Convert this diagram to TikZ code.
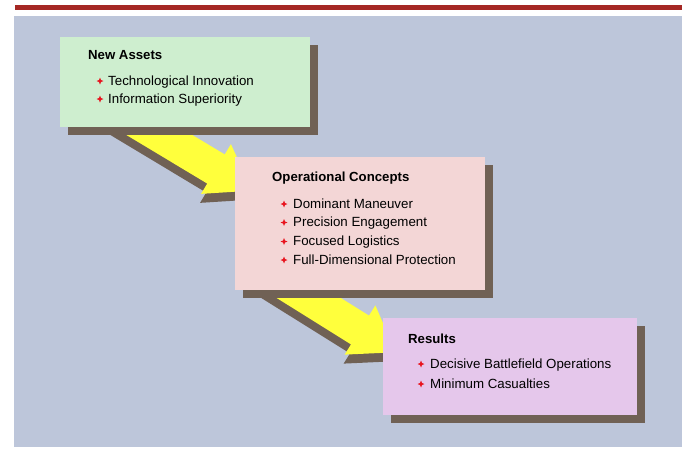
\documentclass[tikz,border=0pt]{standalone}
\usepackage{fontspec}
\setmainfont{Liberation Sans}
\usetikzlibrary{shadows}

\pgfdeclarelayer{panel}
\pgfdeclarelayer{arrows}
\pgfsetlayers{panel,arrows,main}

\definecolor{panelbg}{RGB}{189,198,218}
\definecolor{ruleline}{RGB}{165,40,36}
\definecolor{assetsbg}{RGB}{206,238,207}
\definecolor{conceptsbg}{RGB}{243,214,214}
\definecolor{resultsbg}{RGB}{229,199,235}
\definecolor{shadowc}{RGB}{112,97,85}
\definecolor{arrowfill}{RGB}{255,255,60}
\definecolor{bulletred}{RGB}{232,20,30}

% block arrow outline, origin at the base of the head, pointing along +x
\newcommand\blockarrowpath{(-120,-17) -- (0,-17) -- (0,-29) -- (42,0) -- (0,29) -- (0,17) -- (-120,17) -- cycle}

\tikzset{
  panelbox/.style={anchor=north west, inner sep=0pt, outer sep=0pt,
    minimum width=#1, drop shadow={opacity=1, fill=shadowc,
    shadow xshift=8pt, shadow yshift=-8pt}},
  head/.style={anchor=base west, inner sep=0pt,
    font=\fontsize{13.2}{16}\selectfont\bfseries},
  item/.style={anchor=base west, inner sep=0pt,
    font=\fontsize{13.3}{16}\selectfont},
  pics/bul/.style={code={
    \fill[bulletred] (0,-3.5) -- (1,-1) -- (3.5,0) -- (1,1) -- (0,3.5)
      -- (-1,1) -- (-3.5,0) -- (-1,-1) -- cycle;}}
}

\begin{document}
\begin{tikzpicture}[x=1pt,y=-1pt]
\useasboundingbox (0,0) rectangle (682,451);

\begin{pgfonlayer}{panel}
  \fill[ruleline] (15,5) rectangle (682,10);
  \fill[panelbg] (14,16) rectangle (682,447);
\end{pgfonlayer}

% the three stages
\node[panelbox=250pt, minimum height=90pt, fill=assetsbg] (b1) at (60,37) {};
\node[panelbox=250pt, minimum height=133pt, fill=conceptsbg] (b2) at (235,157) {};
\node[panelbox=254pt, minimum height=97pt, fill=resultsbg] (b3) at (383,318) {};

% New Assets
\node[head] (h1) at (88,59) {New Assets};
\pic at (100,81) {bul};
\node[item] (i11) at (108,85) {Technological Innovation};
\pic at (100,99) {bul};
\node[item] (i12) at (108,103) {Information Superiority};

% Operational Concepts
\node[head] (h2) at (272,181) {Operational Concepts};
\pic at (284,204) {bul};
\node[item] (i21) at (293,208) {Dominant Maneuver};
\pic at (284,222.5) {bul};
\node[item] (i22) at (293,226.5) {Precision Engagement};
\pic at (284,241.5) {bul};
\node[item] (i23) at (293,245.5) {Focused Logistics};
\pic at (284,260) {bul};
\node[item] (i24) at (293,264) {Full-Dimensional Protection};

% Results
\node[head] (h3) at (408,343) {Results};
\pic at (421,364) {bul};
\node[item] (i31) at (430,368) {Decisive Battlefield Operations};
\pic at (421,384) {bul};
\node[item] (i32) at (430,388) {Minimum Casualties};

% arrow heads sit just outside the left edge of the next stage
\coordinate (a1) at ([shift={(-19,12)}]b2.north west);
\coordinate (a2) at ([shift={(-23,12)}]b3.north west);
\coordinate (a1s) at ([shift={(-1,9)}]a1);
\coordinate (a2s) at ([shift={(-1,9)}]a2);

\begin{pgfonlayer}{arrows}
  \begin{scope}[shift={(a1s)}, rotate=-31]
    \fill[shadowc] \blockarrowpath;
  \end{scope}
  \begin{scope}[shift={(a1)}, rotate=-31]
    \fill[arrowfill] \blockarrowpath;
  \end{scope}
  \begin{scope}[shift={(a2s)}, rotate=-32]
    \fill[shadowc] \blockarrowpath;
  \end{scope}
  \begin{scope}[shift={(a2)}, rotate=-32]
    \fill[arrowfill] \blockarrowpath;
  \end{scope}
\end{pgfonlayer}
\end{tikzpicture}
\end{document}
